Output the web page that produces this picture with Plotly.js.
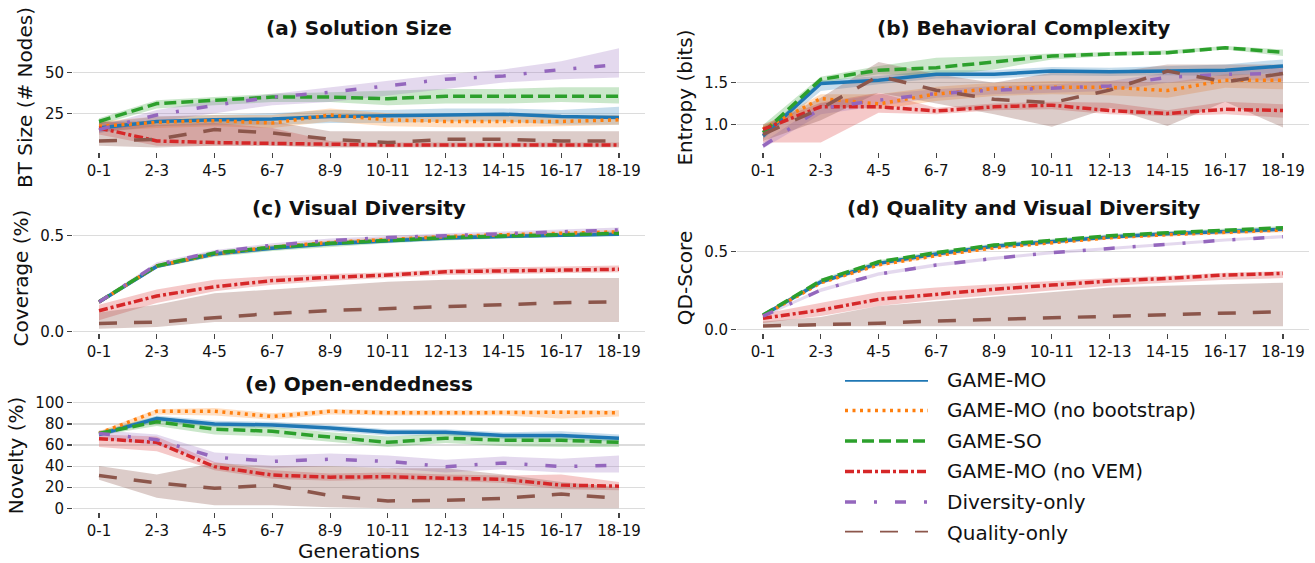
<!DOCTYPE html>
<html><head><meta charset="utf-8">
<script src="https://cdn.plot.ly/plotly-3.0.1.min.js"></script>
<style>html,body{margin:0;padding:0;background:#fff}#chart{width:1315px;height:563px}</style>
</head><body><div id="chart"></div>
<script>
// ---------- categories & series ----------
const categories = ['0-1','2-3','4-5','6-7','8-9','10-11','12-13','14-15','16-17','18-19'];
const seriesNames = ['GAME-MO','GAME-MO (no bootstrap)','GAME-SO','GAME-MO (no VEM)','Diversity-only','Quality-only'];
const panelTitles = ['(a) Solution Size','(b) Behavioral Complexity','(c) Visual Diversity','(d) Quality and Visual Diversity','(e) Open-endedness'];
const yTitles = ['BT Size (# Nodes)','Entropy (bits)','Coverage (%)','QD-Score','Novelty (%)'];
const xTitle = 'Generations';

// ---------- (a) Solution size ----------
const size_mo      = [16, 20, 21, 21.5, 23, 23.5, 24.5, 24.5, 23, 22.5];
const size_mo_lo   = [13, 17, 18, 18, 19, 19, 20, 20, 18, 18];
const size_mo_hi   = [19, 23, 24, 25, 27, 27, 28, 28, 27, 29];
const size_nb      = [17, 19.5, 20.5, 19, 24, 21, 20, 20, 20, 21];
const size_nb_lo   = [14, 16, 17, 16, 20, 17, 16.5, 16.5, 17, 18];
const size_nb_hi   = [20, 23, 24, 24, 28, 25, 24, 24, 23, 24];
const size_so      = [20, 31, 33, 35, 35, 34, 35.5, 35.5, 35.5, 35.5];
const size_so_lo   = [18, 28, 30, 32, 32, 30, 31, 31, 32, 31];
const size_so_hi   = [22, 33, 35, 37, 38, 39, 40, 40, 41, 41];
const size_nv      = [16, 8, 7, 6.5, 5.5, 5.5, 5.5, 5.5, 5.5, 5.5];
const size_nv_lo   = [12, 5, 5, 5, 4.5, 4.5, 4.5, 4.5, 4.5, 4.5];
const size_nv_hi   = [20, 18, 19, 16, 8, 7, 7, 7, 7, 7];
const size_div     = [15, 24, 30, 35, 38, 42, 46, 48, 52, 55];
const size_div_lo  = [13, 20, 25, 30, 32, 36, 40, 44, 46, 47];
const size_div_hi  = [17, 27, 33, 37, 41, 45, 49, 52, 57, 65];
const size_q       = [8, 9, 15, 13, 9, 7, 9, 9, 8, 8];
const size_q_lo    = [5, 4, 5, 5, 4, 4, 4, 4, 4, 4];
const size_q_hi    = [20, 20, 22, 20, 14, 14, 14, 14, 14, 14];

// ---------- (b) Behavioral complexity ----------
const ent_mo      = [0.86, 1.49, 1.53, 1.60, 1.60, 1.64, 1.63, 1.645, 1.65, 1.70];
const ent_mo_lo   = [0.82, 1.40, 1.48, 1.55, 1.55, 1.59, 1.58, 1.59, 1.58, 1.62];
const ent_mo_hi   = [0.90, 1.53, 1.58, 1.65, 1.65, 1.69, 1.68, 1.70, 1.72, 1.78];
const ent_nb      = [0.94, 1.31, 1.245, 1.365, 1.43, 1.445, 1.445, 1.405, 1.53, 1.53];
const ent_nb_lo   = [0.90, 1.22, 1.18, 1.28, 1.34, 1.36, 1.35, 1.32, 1.44, 1.42];
const ent_nb_hi   = [0.98, 1.36, 1.36, 1.45, 1.50, 1.52, 1.52, 1.50, 1.60, 1.60];
const ent_so      = [0.90, 1.54, 1.65, 1.68, 1.75, 1.82, 1.845, 1.86, 1.92, 1.865];
const ent_so_lo   = [0.84, 1.50, 1.60, 1.58, 1.66, 1.78, 1.82, 1.84, 1.90, 1.82];
const ent_so_hi   = [0.99, 1.57, 1.70, 1.80, 1.82, 1.85, 1.87, 1.89, 1.94, 1.90];
const ent_nv      = [0.94, 1.21, 1.21, 1.16, 1.21, 1.23, 1.165, 1.13, 1.18, 1.165];
const ent_nv_lo   = [0.78, 0.78, 1.14, 1.12, 1.17, 1.18, 1.12, 1.10, 1.12, 1.08];
const ent_nv_hi   = [1.00, 1.26, 1.38, 1.20, 1.25, 1.27, 1.26, 1.17, 1.27, 1.24];
const ent_div     = [0.74, 1.19, 1.29, 1.37, 1.41, 1.43, 1.46, 1.565, 1.60, 1.61];
const ent_div_lo  = [0.71, 1.12, 1.22, 1.32, 1.36, 1.38, 1.40, 1.50, 1.54, 1.52];
const ent_div_hi  = [0.78, 1.25, 1.36, 1.42, 1.46, 1.48, 1.52, 1.62, 1.66, 1.68];
const ent_q       = [0.88, 1.19, 1.58, 1.41, 1.30, 1.26, 1.41, 1.64, 1.51, 1.61];
const ent_q_lo    = [0.80, 1.05, 1.38, 1.25, 1.12, 0.97, 1.20, 0.98, 1.27, 0.96];
const ent_q_hi    = [0.97, 1.32, 1.75, 1.60, 1.50, 1.62, 1.62, 1.72, 1.72, 1.72];

// ---------- (c) Visual diversity ----------
const cov_mo      = [0.155, 0.340, 0.405, 0.435, 0.458, 0.475, 0.488, 0.496, 0.502, 0.508];
const cov_mo_lo   = [0.145, 0.330, 0.395, 0.425, 0.448, 0.465, 0.478, 0.488, 0.495, 0.500];
const cov_mo_hi   = [0.165, 0.350, 0.415, 0.445, 0.468, 0.485, 0.498, 0.505, 0.510, 0.516];
const cov_nb      = [0.155, 0.342, 0.405, 0.440, 0.465, 0.482, 0.495, 0.505, 0.512, 0.520];
const cov_nb_lo   = [0.145, 0.332, 0.395, 0.430, 0.455, 0.472, 0.485, 0.495, 0.502, 0.510];
const cov_nb_hi   = [0.165, 0.352, 0.415, 0.450, 0.475, 0.492, 0.505, 0.515, 0.522, 0.530];
const cov_so      = [0.156, 0.343, 0.410, 0.440, 0.460, 0.477, 0.490, 0.498, 0.505, 0.512];
const cov_so_lo   = [0.146, 0.330, 0.390, 0.420, 0.440, 0.460, 0.475, 0.485, 0.495, 0.500];
const cov_so_hi   = [0.166, 0.353, 0.420, 0.450, 0.470, 0.487, 0.500, 0.508, 0.515, 0.522];
const cov_nv      = [0.109, 0.186, 0.234, 0.266, 0.283, 0.295, 0.3125, 0.318, 0.321, 0.325];
const cov_nv_lo   = [0.060, 0.150, 0.210, 0.245, 0.265, 0.280, 0.295, 0.300, 0.305, 0.310];
const cov_nv_hi   = [0.140, 0.220, 0.270, 0.290, 0.300, 0.310, 0.325, 0.335, 0.340, 0.345];
const cov_div     = [0.155, 0.350, 0.415, 0.450, 0.475, 0.490, 0.500, 0.510, 0.520, 0.530];
const cov_div_lo  = [0.145, 0.340, 0.405, 0.440, 0.465, 0.480, 0.490, 0.500, 0.510, 0.520];
const cov_div_hi  = [0.165, 0.362, 0.425, 0.460, 0.485, 0.500, 0.512, 0.522, 0.532, 0.542];
const cov_q       = [0.043, 0.050, 0.073, 0.095, 0.110, 0.120, 0.134, 0.142, 0.151, 0.156];
const cov_q_lo    = [0.015, 0.025, 0.050, 0.050, 0.050, 0.050, 0.050, 0.050, 0.050, 0.050];
const cov_q_hi    = [0.100, 0.140, 0.200, 0.220, 0.240, 0.260, 0.270, 0.275, 0.280, 0.280];

// ---------- (d) Quality and visual diversity ----------
const qd_mo      = [0.090, 0.305, 0.425, 0.485, 0.535, 0.567, 0.595, 0.615, 0.630, 0.645];
const qd_mo_lo   = [0.082, 0.295, 0.415, 0.475, 0.525, 0.557, 0.585, 0.605, 0.620, 0.635];
const qd_mo_hi   = [0.098, 0.315, 0.435, 0.495, 0.545, 0.577, 0.605, 0.625, 0.640, 0.655];
const qd_nb      = [0.088, 0.300, 0.415, 0.475, 0.525, 0.560, 0.590, 0.610, 0.625, 0.640];
const qd_nb_lo   = [0.080, 0.290, 0.405, 0.465, 0.515, 0.550, 0.578, 0.598, 0.612, 0.625];
const qd_nb_hi   = [0.096, 0.310, 0.425, 0.485, 0.535, 0.570, 0.600, 0.620, 0.635, 0.650];
const qd_so      = [0.092, 0.313, 0.435, 0.494, 0.543, 0.575, 0.603, 0.622, 0.640, 0.655];
const qd_so_lo   = [0.084, 0.300, 0.420, 0.482, 0.532, 0.565, 0.593, 0.612, 0.630, 0.645];
const qd_so_hi   = [0.100, 0.325, 0.445, 0.504, 0.553, 0.585, 0.613, 0.632, 0.650, 0.665];
const qd_nv      = [0.071, 0.124, 0.193, 0.227, 0.258, 0.285, 0.311, 0.328, 0.350, 0.360];
const qd_nv_lo   = [0.040, 0.085, 0.150, 0.190, 0.220, 0.250, 0.280, 0.300, 0.320, 0.330];
const qd_nv_hi   = [0.100, 0.170, 0.240, 0.270, 0.290, 0.310, 0.330, 0.345, 0.365, 0.375];
const qd_div     = [0.085, 0.253, 0.356, 0.414, 0.457, 0.494, 0.521, 0.550, 0.575, 0.597];
const qd_div_lo  = [0.078, 0.240, 0.345, 0.403, 0.447, 0.484, 0.511, 0.540, 0.565, 0.587];
const qd_div_hi  = [0.092, 0.265, 0.367, 0.425, 0.467, 0.504, 0.531, 0.560, 0.585, 0.607];
const qd_q       = [0.021, 0.028, 0.039, 0.054, 0.064, 0.075, 0.086, 0.092, 0.103, 0.114];
const qd_q_lo    = [0.020, 0.020, 0.020, 0.020, 0.020, 0.020, 0.020, 0.020, 0.020, 0.020];
const qd_q_hi    = [0.050, 0.080, 0.150, 0.180, 0.210, 0.240, 0.270, 0.280, 0.290, 0.300];

// ---------- (e) Open-endedness ----------
const nov_mo      = [70, 85, 80, 79, 76, 72, 72, 69, 69, 66.5];
const nov_mo_lo   = [68, 82, 77, 76, 73, 69, 69, 66, 65, 63];
const nov_mo_hi   = [72, 88, 83, 82, 79, 75, 75, 72, 73, 70];
const nov_nb      = [71, 92, 92, 87, 92, 90.5, 90.5, 91, 91, 90.5];
const nov_nb_lo   = [68, 89, 88, 84, 89, 88, 88, 88, 85, 87];
const nov_nb_hi   = [73, 94, 95, 90, 94, 93, 93, 93, 93, 93];
const nov_so      = [71, 82, 75, 73, 67.5, 62.5, 66.5, 64.5, 64.5, 62.5];
const nov_so_lo   = [69, 78, 70, 68, 63, 58, 62, 59, 58, 58];
const nov_so_hi   = [73, 87, 80, 77, 72, 68, 71, 69, 69, 67];
const nov_nv      = [66, 62.5, 39.5, 31.5, 29.5, 30, 28.5, 27.5, 22, 21];
const nov_nv_lo   = [58, 54, 36, 28, 26, 27, 26, 24, 18, 17];
const nov_nv_hi   = [70, 68, 44, 36, 33, 34, 32, 31, 32, 25];
const nov_div     = [71, 65, 48.5, 44.5, 46.5, 44.5, 39.5, 43, 39.5, 41];
const nov_div_lo  = [66, 60, 43, 38, 40, 38, 34, 37, 34, 34];
const nov_div_hi  = [74, 70, 53, 50, 52, 50, 46, 49, 47, 50];
const nov_q       = [31, 24, 19, 22, 12, 7, 7.5, 9.5, 13.5, 9.5];
const nov_q_lo    = [27, 10, 3, 3, 1, 0, 0, 0, 0, 0];
const nov_q_hi    = [40, 32, 43, 40, 40, 38, 38, 32, 25, 20];

// ---------- styles ----------
const colors = ['#1f77b4','#ff7f0e','#2ca02c','#d62728','#9467bd','#8c564b'];
const bandColors = ['rgba(31,119,180,0.25)','rgba(255,127,14,0.25)','rgba(44,160,44,0.25)',
                    'rgba(214,39,40,0.25)','rgba(148,103,189,0.25)','rgba(140,86,75,0.3)'];
const dashes = ['solid','3px,4.5px','12px,5px','9px,3px,3px,3px','11px,18px,3px,18px','18px,17px'];
const FONT = 'DejaVu Sans, Liberation Sans, sans-serif';

const panels = [
  {means:[size_mo,size_nb,size_so,size_nv,size_div,size_q], lo:[size_mo_lo,size_nb_lo,size_so_lo,size_nv_lo,size_div_lo,size_q_lo], hi:[size_mo_hi,size_nb_hi,size_so_hi,size_nv_hi,size_div_hi,size_q_hi]},
  {means:[ent_mo,ent_nb,ent_so,ent_nv,ent_div,ent_q], lo:[ent_mo_lo,ent_nb_lo,ent_so_lo,ent_nv_lo,ent_div_lo,ent_q_lo], hi:[ent_mo_hi,ent_nb_hi,ent_so_hi,ent_nv_hi,ent_div_hi,ent_q_hi]},
  {means:[cov_mo,cov_nb,cov_so,cov_nv,cov_div,cov_q], lo:[cov_mo_lo,cov_nb_lo,cov_so_lo,cov_nv_lo,cov_div_lo,cov_q_lo], hi:[cov_mo_hi,cov_nb_hi,cov_so_hi,cov_nv_hi,cov_div_hi,cov_q_hi]},
  {means:[qd_mo,qd_nb,qd_so,qd_nv,qd_div,qd_q], lo:[qd_mo_lo,qd_nb_lo,qd_so_lo,qd_nv_lo,qd_div_lo,qd_q_lo], hi:[qd_mo_hi,qd_nb_hi,qd_so_hi,qd_nv_hi,qd_div_hi,qd_q_hi]},
  {means:[nov_mo,nov_nb,nov_so,nov_nv,nov_div,nov_q], lo:[nov_mo_lo,nov_nb_lo,nov_so_lo,nov_nv_lo,nov_div_lo,nov_q_lo], hi:[nov_mo_hi,nov_nb_hi,nov_so_hi,nov_nv_hi,nov_div_hi,nov_q_hi]}
];

const W = 1315, H = 563;
const px = v => v / W, py = v => 1 - v / H;
const xDomL = [px(73), px(645)], xDomR = [px(737), px(1309)];
const yDom1 = [py(152), py(43)], yDom2 = [py(333), py(223)], yDom3 = [py(512), py(399)];
const panelGeom = [
  {xd:xDomL, yd:yDom1, range:[1.2, 68.3], tickvals:[25,50], fmt:''},
  {xd:xDomR, yd:yDom1, range:[0.667, 1.977], tickvals:[1.0,1.5], fmt:'.1f'},
  {xd:xDomL, yd:yDom2, range:[-0.0068, 0.566], tickvals:[0,0.5], fmt:'.1f'},
  {xd:xDomR, yd:yDom2, range:[-0.0238, 0.685], tickvals:[0,0.5], fmt:'.1f'},
  {xd:xDomL, yd:yDom3, range:[-3.5, 103.6], tickvals:[0,20,40,60,80,100], fmt:''}
];

const traces = [];
const layout = {
  width: W, height: H, margin:{l:0,r:0,t:0,b:0},
  paper_bgcolor:'#fff', plot_bgcolor:'#fff', showlegend:false,
  font:{family:FONT, color:'#111'}, annotations:[]
};

const revCats = categories.slice().reverse();
panels.forEach((p, k) => {
  const n = k + 1, xa = 'x' + (n === 1 ? '' : n), ya = 'y' + (n === 1 ? '' : n);
  for (let i = 0; i < 6; i++) {
    traces.push({x: categories.concat(revCats), y: p.hi[i].concat(p.lo[i].slice().reverse()),
      type:'scatter', mode:'lines', fill:'toself', fillcolor: bandColors[i],
      line:{width:0}, hoverinfo:'skip', xaxis:xa, yaxis:ya, showlegend:false});
  }
  for (let i = 0; i < 6; i++) {
    traces.push({x: categories, y: p.means[i], name: seriesNames[i], type:'scatter', mode:'lines',
      line:{color: colors[i], width: 3.5, dash: dashes[i]}, xaxis:xa, yaxis:ya, showlegend:false});
  }
  const g = panelGeom[k];
  layout['xaxis' + (n === 1 ? '' : n)] = {
    domain: g.xd, anchor: ya, type:'category', range:[-0.45, 9.45], showgrid:false, zeroline:false,
    showline:false, ticks:'outside', ticklen:5, tickwidth:1.2, tickcolor:'#444',
    tickfont:{size:15, color:'#111', family:FONT}, fixedrange:true,
    title: n === 5 ? {text: xTitle, font:{size:20, family:FONT, color:'#111'}, standoff:4} : undefined
  };
  layout['yaxis' + (n === 1 ? '' : n)] = {
    domain: g.yd, anchor: xa, range: g.range, tickvals: g.tickvals, tickformat: g.fmt,
    showgrid:true, gridcolor:'#dcdcdc', gridwidth:1.2, zeroline:false, showline:false,
    ticks:'outside', ticklen:5, tickwidth:1.2, tickcolor:'#444',
    tickfont:{size:15, color:'#111', family:FONT}, fixedrange:true,
    title:{text: yTitles[k], font:{size:20, family:FONT, color:'#111'}, standoff:6}
  };
  layout.annotations.push({
    text: '<b>' + panelTitles[k] + '</b>', xref:'paper', yref:'paper',
    x: (g.xd[0] + g.xd[1]) / 2, y: g.yd[1] + 15 / H, xanchor:'center', yanchor:'middle',
    showarrow:false, font:{size:20, family:FONT, color:'#111'}
  });
});

// ---------- legend (drawn on its own hidden axes) ----------
for (let i = 0; i < 6; i++) {
  traces.push({x:[0, 1], y:[i, i], type:'scatter', mode:'lines', name: seriesNames[i],
    line:{color: colors[i], width:3.5, dash: dashes[i]}, xaxis:'x6', yaxis:'y6', showlegend:false, hoverinfo:'skip'});
  layout.annotations.push({text: seriesNames[i], xref:'paper', yref:'y6', x: px(945), y: i,
    xanchor:'left', yanchor:'middle', showarrow:false, font:{size:20, family:FONT, color:'#111'}});
}
layout.xaxis6 = {domain:[px(845), px(928)], anchor:'y6', range:[0, 1], visible:false, fixedrange:true};
layout.yaxis6 = {domain:[py(532.5), py(380)], anchor:'x6', range:[5.0, 0.0], visible:false, fixedrange:true};

Plotly.newPlot('chart', traces, layout, {staticPlot:true, displayModeBar:false});
</script>
</body></html>
